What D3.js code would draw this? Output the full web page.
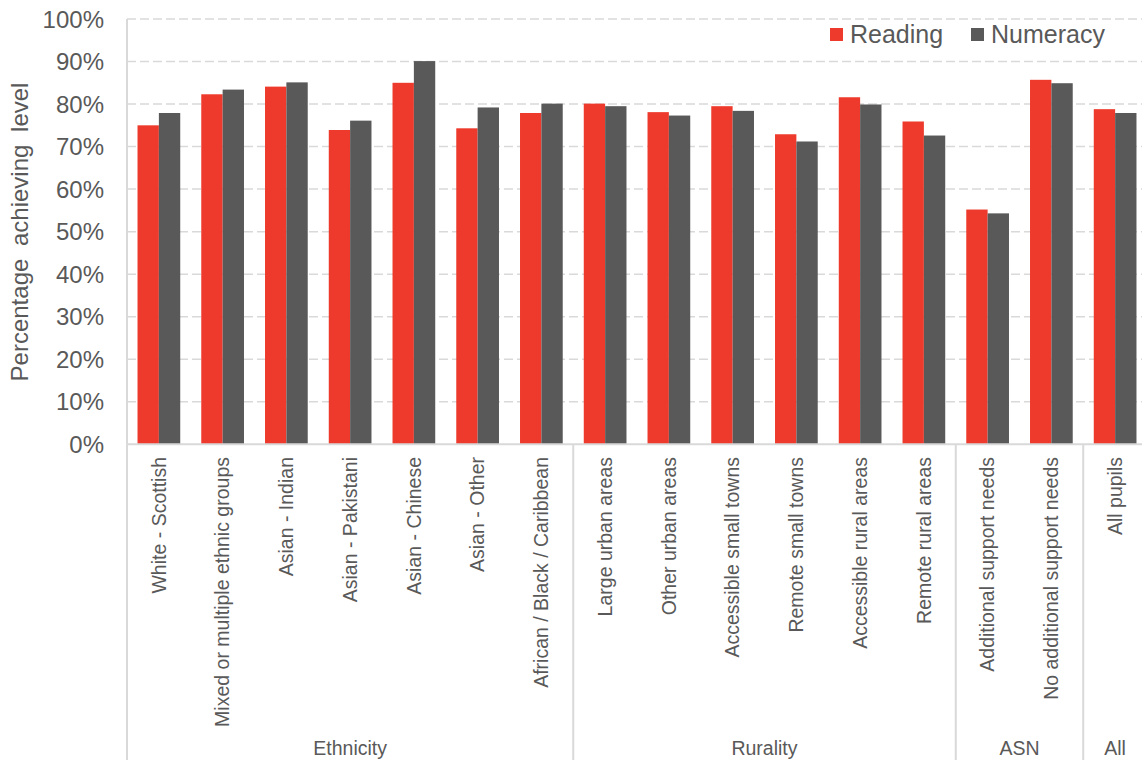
<!DOCTYPE html>
<html><head><meta charset="utf-8">
<script src="https://cdn.jsdelivr.net/npm/d3@7"></script>
<style>body{margin:0;background:#fff}svg{display:block;font-family:"Liberation Sans",Arial,sans-serif}</style>
</head><body><svg id="c" width="1142" height="760"></svg>
<script>
const categories = ["White - Scottish","Mixed or multiple ethnic groups","Asian - Indian","Asian - Pakistani","Asian - Chinese","Asian - Other","African / Black / Caribbean","Large urban areas","Other urban areas","Accessible small towns","Remote small towns","Accessible rural areas","Remote rural areas","Additional support needs","No additional support needs","All pupils"];
const groups = [{name:"Ethnicity",from:0,to:6},{name:"Rurality",from:7,to:12},{name:"ASN",from:13,to:14},{name:"All",from:15,to:15}];
const reading  = [75.0,82.3,84.1,73.9,85.0,74.3,77.9,80.1,78.1,79.5,72.9,81.6,75.9,55.2,85.7,78.8];
const numeracy = [77.9,83.4,85.1,76.1,90.1,79.2,80.1,79.5,77.3,78.4,71.2,79.9,72.6,54.3,84.9,77.9];
const seriesNames = ["Reading","Numeracy"];
const yTicks = [0,10,20,30,40,50,60,70,80,90,100];

const colors = ["#EE3A2C","#595959"];
const textColor = "#595959";
const gridColor = "#d9d9d9";
const svg = d3.select("#c");
const pLeft = 127, pRight = 1147, pTop = 19, pBottom = 444.3;

const x = d3.scaleBand().domain(d3.range(categories.length)).range([pLeft,pRight]).paddingInner(0.33).paddingOuter(0.165);
const xs = d3.scaleBand().domain([0,1]).range([0,x.bandwidth()]);
const y = d3.scaleLinear().domain([0,100]).range([pBottom,pTop]);

// gridlines
svg.append("g").selectAll("line").data(yTicks.filter(d=>d>0)).join("line")
  .attr("x1",pLeft).attr("x2",1142).attr("y1",d=>y(d)).attr("y2",d=>y(d))
  .attr("stroke",gridColor).attr("stroke-width",1.5).attr("stroke-dasharray","9,4");

// y labels
svg.append("g").selectAll("text").data(yTicks).join("text")
  .attr("x",104).attr("y",d=>y(d)).attr("dy","0.36em").attr("text-anchor","end")
  .attr("font-size",24).attr("fill",textColor).text(d=>d+"%");

// y title
svg.append("text").attr("transform","translate(28,232) rotate(-90)").attr("text-anchor","middle")
  .attr("font-size",24).attr("word-spacing",6).attr("fill",textColor).text("Percentage achieving level");

// bars
const data = categories.map((c,i)=>[reading[i],numeracy[i]]);
const g = svg.append("g").selectAll("g").data(data).join("g").attr("transform",(d,i)=>`translate(${x(i)},0)`);
g.selectAll("rect").data(d=>d).join("rect")
  .attr("x",(d,j)=>xs(j)).attr("width",xs.bandwidth())
  .attr("y",d=>y(d)).attr("height",d=>pBottom-y(d)).attr("fill",(d,j)=>colors[j]);

// axes lines
svg.append("line").attr("x1",pLeft).attr("x2",1142).attr("y1",pBottom).attr("y2",pBottom).attr("stroke",gridColor).attr("stroke-width",2);
svg.append("line").attr("x1",pLeft).attr("x2",pLeft).attr("y1",pTop).attr("y2",pBottom).attr("stroke",gridColor).attr("stroke-width",2);

// category labels
svg.append("g").selectAll("text").data(categories).join("text")
  .attr("transform",(d,i)=>`translate(${x(i)+x.bandwidth()/2},457) rotate(-90)`)
  .attr("dy","0.35em").attr("text-anchor","end").attr("font-size",19.5).attr("fill",textColor).text(d=>d);

// group separators
const step = x.step();
const bounds = [0].concat(groups.map(gp=>gp.to+1));
svg.append("g").selectAll("line").data(bounds).join("line")
  .attr("x1",b=>pLeft+b*step).attr("x2",b=>pLeft+b*step).attr("y1",pBottom).attr("y2",760)
  .attr("stroke",gridColor).attr("stroke-width",2);

// group labels
svg.append("g").selectAll("text").data(groups).join("text")
  .attr("x",gp=>pLeft+(gp.from+gp.to+1)/2*step).attr("y",755).attr("text-anchor","middle")
  .attr("font-size",19.5).attr("fill",textColor).text(gp=>gp.name);

// legend
const leg = svg.append("g").selectAll("g").data(seriesNames).join("g")
  .attr("transform",(d,i)=>`translate(${[830,971][i]},0)`);
leg.append("rect").attr("x",0).attr("y",28).attr("width",13).attr("height",13).attr("fill",(d,i)=>colors[i]);
leg.append("text").attr("x",20).attr("y",43).attr("font-size",25).attr("fill",textColor).text(d=>d);
</script></body></html>
